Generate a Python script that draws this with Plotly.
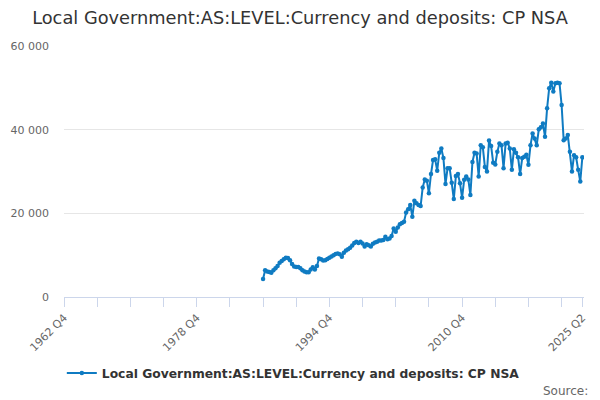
import plotly.graph_objects as go

# ---- data ----
start_year, start_q = 1986, 4
values = [
    4300, 6400, 6100, 6000, 5800, 6400, 6900, 7400, 8200, 8600,
    9000, 9400, 9300, 8800, 7900, 7300, 7200, 7200, 6900, 6400,
    6100, 5900, 5900, 6600, 7100, 6600, 7400, 9200, 9000, 8700,
    8800, 9100, 9400, 9700, 10000, 10300, 10400, 10200, 9600, 10600,
    11100, 11400, 11800, 12300, 12900, 13200, 12900, 13200, 12800, 12100,
    12600, 12400, 12100, 12700, 13000, 13200, 13500, 13500, 13600, 14400,
    13800, 14000, 14600, 16400, 15600, 16600, 17400, 17700, 18000,
    20200, 21000, 22000, 19200, 23000, 22400, 22000, 21750, 26200, 28100,
    27800, 24800, 29400, 32750, 32900, 30200, 34500, 35500, 33200, 27000,
    30800, 30800, 27300, 23400, 28900, 29400, 27200, 23700, 28000, 28800,
    28100, 24400, 32300, 34500, 34300, 28800, 36300, 35800, 31100, 30000,
    37400, 36100, 32100, 31700, 34700, 36700, 36300, 30800, 36700, 36900,
    35500, 30400, 35300, 34500, 33400, 29400, 33200, 33500, 34000, 31600,
    36300, 39100, 37900, 36300, 40100, 40600, 41500, 38300, 45100, 49900,
    51200, 49100, 51100, 51200, 51100, 45900, 37500, 37900, 38700, 34700,
    30000, 33900, 33400, 30400, 27600, 33400,
]
quarters = []
y, q = start_year, start_q
for _ in values:
    quarters.append(f"{y} Q{q}")
    q += 1
    if q > 4:
        q, y = 1, y + 1

tick_labels = ["1962 Q4", "1978 Q4", "1994 Q4", "2010 Q4", "2025 Q2"]
y_ticks = [0, 20000, 40000, 60000]
series_name = "Local Government:AS:LEVEL:Currency and deposits: CP NSA"
title_text = "Local Government:AS:LEVEL:Currency and deposits: CP NSA"


def qnum(label):
    yr, qq = label.split(" Q")
    return int(yr) + (int(qq) - 1) / 4


x_vals = [qnum(s) for s in quarters]
first_tick = qnum(tick_labels[0])
last_tick = qnum(tick_labels[-1])
# minor ticks every 4 years from first tick, plus final label
tick_vals = []
t = first_tick
while t < last_tick - 1e-9:
    tick_vals.append(t)
    t += 4
tick_vals.append(last_tick)
label_map = {qnum(s): s for s in tick_labels}
tick_text = [label_map.get(v, "") for v in tick_vals]

# page body has an 8px margin, so the figure is sized 592x392
W, H = 592, 392
L, T, PW, PH = 56, 38, 520, 251

color = "#0f7bc2"
fig = go.Figure()
fig.add_trace(go.Scatter(
    x=x_vals, y=values, mode="lines+markers", name=series_name,
    line=dict(color=color, width=2),
    marker=dict(color=color, size=4.5),
    customdata=quarters,
    hovertemplate="%{customdata}: %{y}<extra></extra>",
))

fig.update_layout(
    width=W, height=H,
    margin=dict(l=L, r=W - L - PW, t=T, b=H - T - PH, autoexpand=False),
    paper_bgcolor="white", plot_bgcolor="white",
    separators=". ",
    font=dict(family="DejaVu Sans", color="#666666", size=11),
    title=dict(text=title_text, x=(300 - 8) / W, xanchor="center", y=1 - 10 / H,
               yanchor="middle", font=dict(size=17.8, color="#333333")),
    showlegend=True,
    legend=dict(orientation="h", x=0.441, xanchor="center",
                y=(289 - 365) / PH, yanchor="middle",
                font=dict(size=12.3, color="#333333", weight="bold")),
    xaxis=dict(
        range=[first_tick, last_tick + 0.2], tickvals=tick_vals, ticktext=tick_text,
        tickangle=-45, showgrid=False, zeroline=False,
        showline=True, linecolor="#ccd6eb", linewidth=1,
        ticks="outside", ticklen=9, tickcolor="#ccd6eb",
        tickfont=dict(size=11, color="#666666"),
    ),
    yaxis=dict(
        range=[0, 60000], tickvals=y_ticks, tickformat=",d",
        showgrid=True, gridcolor="#e6e6e6", zeroline=False, showline=False,
        ticks="", ticklabelstandoff=14,
        tickfont=dict(size=11, color="#666666"),
    ),
    annotations=[dict(text="Source:", xref="paper", yref="paper",
                      x=(582 - L) / PW, xanchor="right",
                      y=(289 - 383) / PH, yanchor="middle", showarrow=False,
                      font=dict(size=12, color="#666666"))],
)

fig.write_html("out.html")
